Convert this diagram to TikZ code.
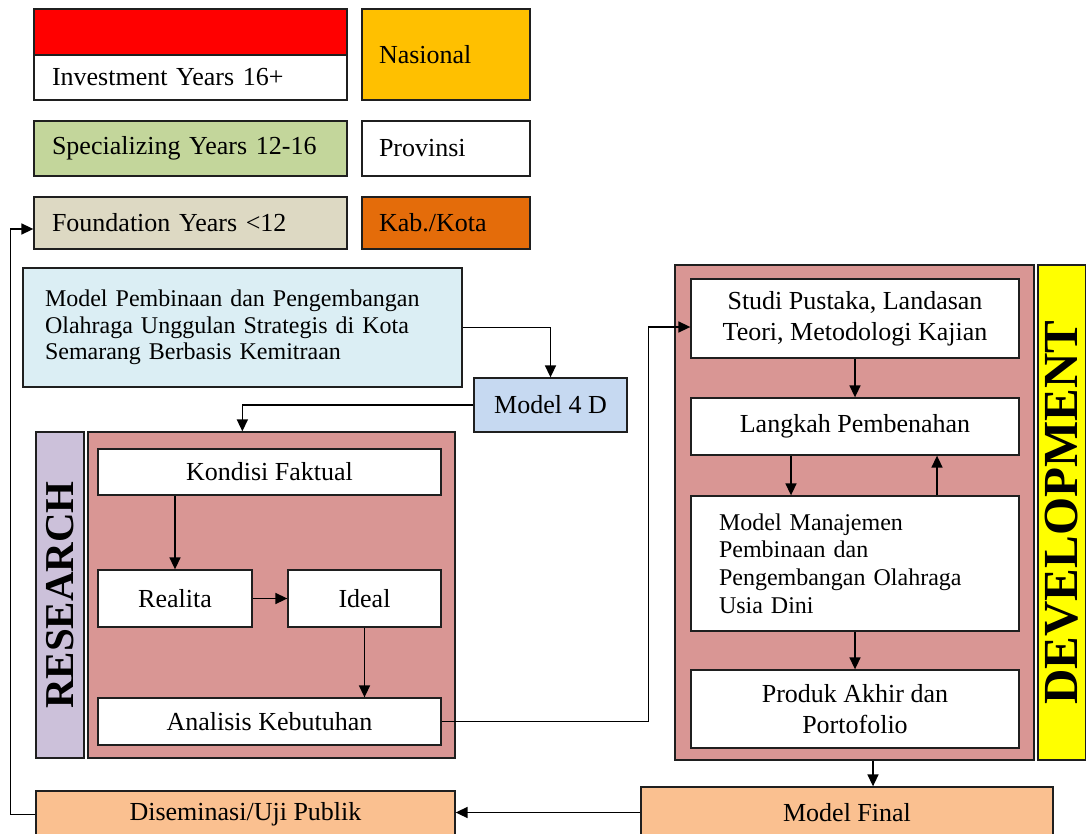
\documentclass[tikz,border=0pt]{standalone}
\usepackage{fontspec}
\setmainfont{Liberation Serif}
\usetikzlibrary{arrows.meta,calc}
\definecolor{cRed}{HTML}{FF0000}
\definecolor{cNas}{HTML}{FFC000}
\definecolor{cSpe}{HTML}{C3D69B}
\definecolor{cFou}{HTML}{DDD9C3}
\definecolor{cKab}{HTML}{E46C0A}
\definecolor{cMain}{HTML}{DBEEF4}
\definecolor{cFour}{HTML}{C6D9F1}
\definecolor{cLav}{HTML}{CCC1DA}
\definecolor{cPink}{HTML}{D99694}
\definecolor{cYel}{HTML}{FFFF00}
\definecolor{cOra}{HTML}{FAC090}
\newcommand{\fsA}{\fontsize{26}{31}\selectfont}
\newcommand{\fsB}{\fontsize{24}{26.5}\selectfont}
\newcommand{\fsC}{\fontsize{24}{27.7}\selectfont}
\begin{document}
\begin{tikzpicture}[x=1pt,y=-1pt,
  box/.style={draw=black!88,line width=1.3pt,inner sep=0pt,align=center,font=\fsA},
  lbox/.style={box,align=left},
  arr/.style={line width=1.6pt,-{Triangle[length=12pt,width=11pt]}},
  vlab/.style={box,rotate=90}]
\useasboundingbox (0,0) rectangle (1086,834);
\clip (0,0) rectangle (1086,834);

% legend
\node[box,fill=cRed,minimum width=313pt,minimum height=46pt] (invtop) at (190.5,32) {};
\node[lbox,fill=white,minimum width=313pt,minimum height=45pt,inner xsep=18pt,text width=277pt] (inv) at (190.5,77.5) {Investment Years 16+};
\node[lbox,fill=cNas,minimum width=168pt,minimum height=91pt,inner xsep=17pt,text width=134pt] (nas) at (446,54.5) {Nasional};
\node[lbox,fill=cSpe,minimum width=313pt,minimum height=55pt,inner xsep=18pt,text width=277pt] (spe) at (190.5,148.5) {Specializing Years 12-16};
\node[lbox,fill=white,minimum width=168pt,minimum height=55pt,inner xsep=17pt,text width=134pt] (prv) at (446,148.5) {Provinsi};
\node[lbox,fill=cFou,minimum width=313pt,minimum height=52pt,inner xsep=18pt,text width=277pt] (fou) at (190.5,223) {Foundation Years <12};
\node[lbox,fill=cKab,minimum width=168pt,minimum height=52pt,inner xsep=17pt,text width=134pt] (kab) at (446,223) {Kab./Kota};

% main title & model 4D
\node[lbox,fill=cMain,minimum width=439pt,minimum height=119pt,inner xsep=22pt,text width=395pt,font=\fsB] (main) at (242.5,327.5)
  {Model Pembinaan dan Pengembangan\\Olahraga Unggulan Strategis di Kota\\Semarang Berbasis Kemitraan};
\node[box,fill=cFour,minimum width=153pt,minimum height=54pt] (m4d) at (550.5,405) {Model 4 D};

% research
\node[vlab,fill=cLav,minimum width=326pt,minimum height=48pt,font=\fontsize{41}{41}\bfseries\selectfont] (reslab) at (60,595) {RESEARCH};
\node[box,fill=cPink,minimum width=367pt,minimum height=326pt] (resbox) at (271.5,595) {};
\node[box,fill=white,minimum width=343pt,minimum height=46pt] (kon) at (269.5,472) {Kondisi Faktual};
\node[box,fill=white,minimum width=154pt,minimum height=57pt] (rea) at (175,598.5) {Realita};
\node[box,fill=white,minimum width=153pt,minimum height=57pt] (ide) at (364.5,598.5) {Ideal};
\node[box,fill=white,minimum width=343pt,minimum height=47pt] (ana) at (269.5,721.5) {Analisis Kebutuhan};

% development
\node[box,fill=cPink,minimum width=359pt,minimum height=495pt] (dev) at (854.5,512.5) {};
\node[vlab,fill=cYel,minimum width=495pt,minimum height=48pt,font=\fontsize{49}{49}\bfseries\selectfont] (devlab) at (1062,512.5) {DEVELOPMENT};
\node[box,fill=white,minimum width=328pt,minimum height=79pt] (stu) at (855,318.5) {Studi Pustaka, Landasan\\Teori, Metodologi Kajian};
\node[box,fill=white,minimum width=328pt,minimum height=57pt] (lan) at (855,426.5) {Langkah Pembenahan};
\node[lbox,fill=white,minimum width=328pt,minimum height=135pt,inner xsep=28pt,text width=272pt,font=\fsC] (mm) at (855,563.5)
  {Model Manajemen\\Pembinaan dan\\Pengembangan Olahraga\\Usia Dini};
\node[box,fill=white,minimum width=328pt,minimum height=78pt] (prd) at (855,709) {Produk Akhir dan\\Portofolio};

% bottom
\node[box,fill=cOra,minimum width=412pt,minimum height=51pt] (mf) at (847,812.5) {Model Final};
\node[box,fill=cOra,minimum width=419pt,minimum height=47pt] (dis) at (245.5,814.5) {Diseminasi/Uji Publik};

% connectors
\draw[arr] (main.east) -| (m4d.north);
\draw[arr] (m4d.west) -| ($(resbox.north west)+(155,0)$);
\draw[arr] (kon.south -| rea.north) -- (rea.north);
\draw[arr] (rea.east) -- (ide.west);
\draw[arr] (ide.south) -- (ide.south |- ana.north);
\draw[arr] (ana.east) -- ++(207,0) |- ([yshift=-8.5pt]stu.west);
\draw[arr] (stu.south) -- (lan.north);
\draw[arr] ([xshift=-64pt]lan.south) -- ([xshift=-64pt]mm.north);
\draw[arr] ([xshift=82pt]mm.north) -- ([xshift=82pt]lan.south);
\draw[arr] (mm.south) -- (prd.north);
\draw[arr] ([xshift=18.5pt]dev.south) -- ([xshift=18.5pt]dev.south |- mf.north);
\draw[arr] (mf.west) -- (mf.west -| dis.east);
\draw[arr] (dis.west) -- ++(-25,0) |- ([yshift=-6pt]fou.west);
\end{tikzpicture}
\end{document}
